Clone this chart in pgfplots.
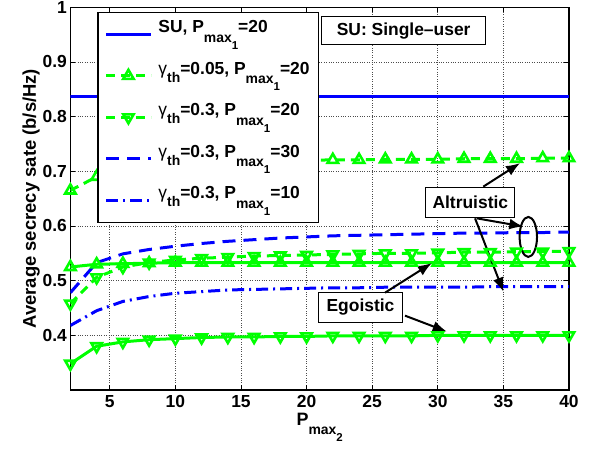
\documentclass[border=0pt]{standalone}
\usepackage{fontspec}
\setmainfont{Liberation Sans}
\usepackage{pgfplots}
\pgfplotsset{compat=1.18}
\usetikzlibrary{arrows.meta}

\newcommand{\fs}[1]{\fontsize{#1}{#1}\selectfont}
\newcommand{\Pm}[1]{P\raisebox{-0.55em}{\fs{14}max\raisebox{-0.5em}{\fs{11.5}#1}}}
\newcommand{\gth}{\mdseries γ\bfseries\raisebox{-0.45em}{\fs{14}th}}

\pgfplotstableread{
x a05 a03 b30 b10 e05 e03
2 0.665 0.458 0.478 0.418 0.525 0.348
4 0.690 0.506 0.533 0.445 0.530 0.380
6 0.701 0.525 0.549 0.462 0.531 0.388
8 0.707 0.533 0.557 0.471 0.532 0.392
10 0.711 0.538 0.563 0.477 0.533 0.394
12 0.714 0.541 0.568 0.480 0.533 0.396
14 0.716 0.543 0.572 0.483 0.533 0.397
16 0.718 0.545 0.575 0.484 0.533 0.397
18 0.719 0.546 0.578 0.485 0.533 0.398
20 0.720 0.547 0.580 0.486 0.533 0.398
22 0.721 0.548 0.582 0.487 0.533 0.399
24 0.721 0.549 0.583 0.487 0.533 0.399
26 0.722 0.550 0.584 0.488 0.533 0.399
28 0.722 0.550 0.585 0.488 0.533 0.399
30 0.722 0.551 0.586 0.488 0.533 0.400
32 0.723 0.552 0.587 0.488 0.533 0.400
34 0.723 0.552 0.587 0.489 0.533 0.400
36 0.723 0.553 0.588 0.489 0.533 0.400
38 0.724 0.553 0.588 0.489 0.533 0.400
40 0.724 0.554 0.589 0.489 0.533 0.400
}\data

\begin{document}
\begin{tikzpicture}
\path[use as bounding box] (-70.4bp,-67bp) rectangle (526.6bp,390bp);
\begin{axis}[
  scale only axis, width=498.6bp, height=382.7bp,
  at={(0,0)}, anchor=south west,
  xmin=2, xmax=40, ymin=0.3, ymax=1,
  xtick={5,10,...,40}, ytick={0.4,0.5,...,1.0},
  tick align=inside, major tick length=5bp,
  xtick pos=both, ytick pos=both,
  grid=major, major grid style={dotted, black!70, line width=0.7bp},
  axis line style={line width=1.4bp},
  every tick/.style={black, line width=0.9bp},
  /pgf/number format/assume math mode=true,
  ticklabel style={font=\fs{17.5}\bfseries},
  xticklabel style={yshift=-2bp},
  ylabel={Average secrecy sate (b/s/Hz)},
  ylabel style={font=\fs{18.5}\bfseries, yshift=-4bp},
  xlabel={\Pm{2}},
  xlabel style={font=\fs{18}\bfseries, yshift=2bp},
  legend cell align=left,
  legend image code/.code={\draw[mark repeat=2,mark phase=2,#1] plot coordinates {(0bp,0bp) (22bp,0bp) (45bp,0bp)};},
  legend style={at={(rel axis cs:0.054,0.9885)}, anchor=north west, draw=black, line width=1.2bp,
     font=\fs{17.5}\bfseries, row sep=9.5bp, inner xsep=7bp, inner ysep=6bp,
     /tikz/every odd column/.append style={column sep=4bp},
     nodes={text depth=16bp, text height=13bp, inner sep=1.5bp}},
]
\addplot[blue, line width=3bp] coordinates {(2,0.836) (40,0.836)};
\addlegendentry{SU, \Pm{1}=20}
\addplot[green, line width=3bp, dash pattern=on 9bp off 6bp, mark=triangle, mark size=6bp, mark options={solid, line width=2.6bp}] table[x=x,y=a05]{\data};
\addlegendentry{\gth=0.05, \Pm{1}=20}
\addplot[green, line width=3bp, dash pattern=on 9bp off 6bp, mark=triangle, mark size=6bp, mark options={solid, rotate=180, line width=2.6bp}] table[x=x,y=a03]{\data};
\addlegendentry{\gth=0.3, \Pm{1}=20}
\addplot[blue, line width=3bp, dash pattern=on 13bp off 8bp] table[x=x,y=b30]{\data};
\addlegendentry{\gth=0.3, \Pm{1}=30}
\addplot[blue, line width=3bp, dash pattern=on 12bp off 5bp on 2bp off 5bp] table[x=x,y=b10]{\data};
\addlegendentry{\gth=0.3, \Pm{1}=10}
\addplot[green, line width=3bp, mark=triangle, mark size=6bp, mark options={solid, line width=2.6bp}, forget plot] table[x=x,y=e05]{\data};
\addplot[green, line width=3bp, mark=triangle, mark size=6bp, mark options={solid, rotate=180, line width=2.6bp}, forget plot] table[x=x,y=e03]{\data};

\node[draw=black, line width=0.7bp, fill=white, font=\fs{17.5}\bfseries, minimum width=164bp, minimum height=28bp, inner sep=0pt] at (axis cs:27.4,0.957) {SU: Single--user};
\node[draw=black, line width=0.7bp, fill=white, font=\fs{17.5}\bfseries, minimum width=89bp, minimum height=29.6bp, inner sep=0pt] at (axis cs:32.48,0.643) {Altruistic};
\node[draw=black, line width=0.7bp, fill=white, font=\fs{17.5}\bfseries, minimum width=84.4bp, minimum height=30bp, inner sep=0pt] at (axis cs:24.11,0.4513) {Egoistic};
\begin{scope}[line width=2bp, -{Latex[length=14bp,width=11bp]}]
\draw (axis cs:33.47,0.672) -- (axis cs:36.27,0.715);
\draw (axis cs:32.97,0.614) -- (axis cs:36.52,0.599);
\draw (axis cs:32.84,0.614) -- (axis cs:35.0,0.480);
\draw (axis cs:25.98,0.478) -- (axis cs:29.54,0.532);
\draw (axis cs:27.5,0.436) -- (axis cs:30.68,0.407);
\end{scope}
\draw[line width=2bp] (axis cs:36.9,0.580) ellipse [x radius=8.7bp, y radius=20bp];
\end{axis}
\end{tikzpicture}
\end{document}
